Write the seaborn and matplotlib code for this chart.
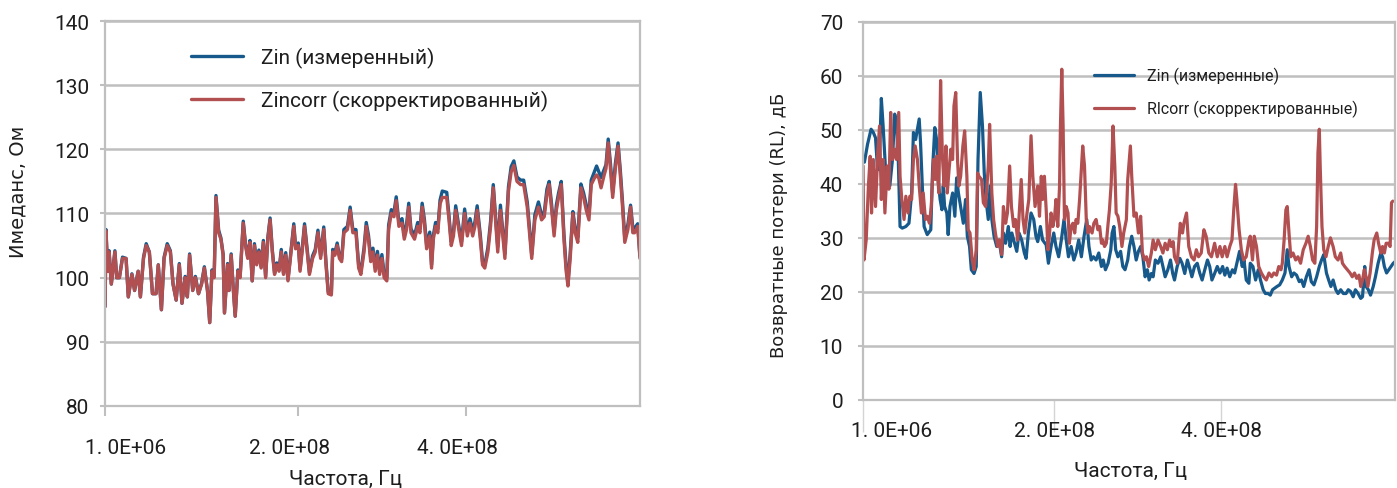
import matplotlib
matplotlib.use("Agg")
import matplotlib.pyplot as plt
from matplotlib.transforms import ScaledTranslation
import seaborn as sns

# ---------------- Input impedance (sweep point number -> Ohm) ----------------
imp_points = [
    0, 2, 6, 9, 14, 22, 26, 32, 39, 47,
    52, 60, 66, 74, 79, 86, 92, 99, 106, 114,
    119, 126, 132, 139, 146, 152, 159, 166, 172, 179,
    184, 189, 196, 202, 209, 216, 222, 229, 234, 239,
    244, 248, 254, 259, 264, 267, 274, 277, 282, 286,
    291, 297, 302, 309, 314, 319, 324, 329, 334, 339,
    344, 349, 354, 359, 364, 369, 374, 379, 384, 389,
    394, 399, 404, 409, 416, 422, 426, 432, 436, 442,
    446, 452, 457, 464, 470, 476, 482, 489, 494, 499,
    506, 509, 514, 519, 524, 529, 534, 542, 548, 554,
    561, 567, 572, 579, 584, 589, 594, 599, 604, 609,
    614, 619, 624, 630, 634, 640, 646, 651, 657, 664,
    669, 674, 679, 684, 692, 699, 704, 709, 714, 719,
    726, 730, 734, 739, 744, 749, 754, 764, 769, 774,
    779, 784, 792, 797, 804, 810, 816, 822, 827, 832,
    839, 844, 849, 856, 862, 868, 874, 878, 884, 890,
    894, 902, 908, 914, 921, 929, 936, 944, 949, 954,
    961, 969, 976, 982, 988, 993, 998, 1004, 1009, 1014,
    1020, 1026, 1031, 1035, 1040, 1046, 1051, 1057, 1064, 1070,
    1076, 1082, 1087, 1094, 1099, 1104, 1109, 1116, 1120, 1125,
    1130, 1135, 1141, 1147, 1152, 1157, 1162, 1169, 1175, 1180,
    1184, 1191, 1196,
]
imp_measured = [
    95.5, 107.5, 101, 104.2, 99, 104.2, 100, 100, 103.2, 103,
    97, 100.6, 98, 101, 97, 103.2, 105.3, 104, 97.5, 97.5,
    102, 95, 103.2, 105.3, 104.2, 99, 96.5, 102.2, 96, 100.2,
    97, 103.7, 98, 100.2, 97.5, 99.2, 101.7, 98, 93, 101.2,
    100.3, 112.8, 107.4, 106.2, 103.7, 94.5, 102.2, 98, 103.7, 99,
    94, 101.2, 100.2, 108.8, 105.3, 103.2, 105.8, 99.5, 105.3, 102.2,
    104.3, 101.7, 105.8, 100.2, 106.3, 109.3, 104.3, 100.7, 102.3, 101.2,
    104.4, 100.7, 103.9, 99.7, 104.4, 108.4, 104.9, 105.4, 101.3, 105.4,
    108.4, 104.4, 100.8, 103.4, 104.4, 107.4, 103.4, 107.9, 102.4, 97.8,
    97.6, 104.4, 103.9, 105.4, 103.4, 102.9, 107.5, 108, 111, 107.5,
    107.5, 102, 101, 104.6, 108.6, 106.6, 103.1, 104.6, 101.6, 104.1,
    101.1, 103.6, 100.6, 100, 108.2, 110.6, 110.2, 112.6, 108.6, 109.2,
    106.6, 108.2, 111.6, 107.6, 106.6, 108.6, 107.6, 111.6, 109.1, 105.1,
    107.1, 102, 106.6, 108.6, 107.6, 112.1, 113.5, 113.3, 109.7, 105.6,
    107.2, 111.2, 107.6, 105.6, 110.7, 107.2, 109.2, 107.2, 108.7, 111.2,
    106.7, 102.5, 102, 104.7, 108.8, 114.5, 108.8, 104.8, 111.3, 106.8,
    103.7, 114.2, 117.3, 118.2, 115.7, 115.2, 115.2, 111.8, 107.8, 103.6,
    109.8, 111.8, 109.8, 110.2, 113.8, 115, 111.7, 107.2, 111.3, 113.2,
    115, 106.8, 101.7, 99.2, 103.8, 110.3, 107.8, 106.3, 114.6, 113.2,
    111.3, 109.8, 115.2, 116.5, 117.4, 116.5, 115.6, 116.9, 117.6, 121.6,
    117.8, 113.2, 117.8, 121, 116.8, 111.8, 106.2, 108.3, 111.3, 107.8,
    107.7, 108.4, 103.3,
]
imp_corrected = [
    95.5, 107.3, 101, 104, 99, 104, 100, 100, 103, 103,
    97, 100.5, 98, 101, 97, 103, 105, 104, 97.5, 97.5,
    102, 95, 103, 105, 104, 99, 96.5, 102, 96, 100,
    97, 103.5, 98, 100, 97.5, 99, 101.5, 98, 93, 101,
    100, 112.5, 107, 106, 103.5, 94.5, 102, 98, 103.5, 99,
    94, 101, 100, 108.5, 105, 103, 105.5, 99.5, 105, 102,
    104, 101.5, 105.5, 100, 106, 109, 104, 100.5, 102, 101,
    104, 100.5, 103.5, 99.5, 104, 108, 104.5, 105, 101, 105,
    108, 104, 100.5, 103, 104, 107, 103, 107.5, 102, 97.5,
    97.3, 104, 103.5, 105, 103, 102.5, 107, 107.5, 110.5, 107,
    107, 101.5, 100.5, 104, 108, 106, 102.5, 104, 101, 103.5,
    100.5, 103, 100, 99.5, 107.5, 110, 109.5, 112, 108, 108.5,
    106, 107.5, 111, 107, 106, 108, 107, 111, 108.5, 104.5,
    106.5, 101.5, 106, 108, 107, 111.5, 112.5, 112.5, 109, 105,
    106.5, 110.5, 107, 105, 110, 106.5, 108.5, 106.5, 108, 110.5,
    106, 102, 101.5, 104, 108, 114, 108, 104, 110.5, 106,
    103, 113.5, 116.5, 117.5, 115, 114.5, 114.5, 111, 107, 103,
    109, 111, 109, 109.5, 113, 114.5, 111, 106.5, 110.5, 112.5,
    114.5, 106, 101, 98.7, 103, 110, 107, 105.5, 114, 112.5,
    110.5, 109, 114.5, 115.5, 116, 115.5, 114, 116, 117, 121,
    117, 112.5, 117, 120.5, 116, 111, 105.5, 107.5, 111, 107,
    107, 108, 103,
]

# ---------------- Return loss (sweep point number -> dB) ----------------
rl_meas_points = [
    3, 10, 18, 23, 28, 32, 36, 41, 45, 50,
    54, 60, 66, 71, 75, 79, 83, 88, 96, 103,
    109, 113, 118, 126, 129, 133, 137, 144, 152, 156,
    161, 165, 169, 173, 177, 180, 183, 188, 191, 195,
    201, 206, 210, 214, 219, 225, 230, 234, 239, 243,
    249, 254, 258, 263, 268, 272, 276, 281, 285, 289,
    294, 300, 305, 311, 315, 320, 326, 330, 334, 339,
    345, 350, 356, 362, 366, 371, 377, 383, 388, 392,
    398, 403, 411, 416, 422, 428, 433, 439, 445, 451,
    456, 461, 467, 473, 478, 484, 490, 496, 502, 507,
    512, 517, 523, 529, 535, 539, 544, 550, 556, 559,
    563, 567, 572, 578, 583, 588, 594, 598, 603, 608,
    613, 618, 623, 628, 633, 638, 642, 647, 651, 656,
    662, 668, 673, 678, 684, 690, 695, 699, 705, 711,
    716, 722, 728, 734, 738, 744, 750, 756, 761, 767,
    773, 778, 783, 789, 795, 801, 807, 812, 817, 823,
    829, 834, 839, 845, 851, 855, 860, 866, 869, 875,
    881, 887, 892, 898, 903, 909, 914, 919, 924, 929,
    935, 941, 947, 952, 956, 962, 967, 973, 979, 984,
    989, 995, 1001, 1006, 1012, 1018, 1024, 1029, 1034, 1040,
    1045, 1050, 1055, 1061, 1066, 1072, 1078, 1084, 1089, 1094,
    1100, 1105, 1111, 1117, 1121, 1126, 1129, 1134, 1139, 1145,
    1150, 1156, 1162, 1166, 1170, 1175, 1180, 1185, 1190, 1194,
]
rl_measured = [
    44, 47.3, 50.1, 49.5, 48.5, 43.3, 42.6, 55.8, 50.7, 43.3,
    42, 39.6, 44.5, 52.9, 51.3, 44.5, 32.1, 31.8, 32.1, 32.7,
    38.3, 49.5, 48.2, 52, 47.6, 39.6, 32.1, 30.6, 31.5, 42.6,
    50.4, 48.2, 40.2, 37.1, 35.2, 39.6, 35.8, 34.6, 30.6, 35.8,
    38.3, 34, 41.1, 38.3, 35.8, 32.7, 37.1, 30.3, 28.4, 24.1,
    23.4, 24.7, 44.5, 56.9, 50.7, 42, 37.1, 33.4, 39.6, 33.4,
    30.3, 28.4, 29.6, 26.5, 30.9, 29, 32.1, 28.4, 30.9, 29.3,
    27.5, 30.9, 29.6, 27.2, 26.2, 30.9, 34.6, 33.4, 30.3, 29.3,
    32.1, 29.6, 28.7, 25.3, 28.4, 30.9, 28.4, 26.5, 29.6, 33.4,
    29.6, 26.5, 28.4, 25.9, 27.2, 29.6, 26.5, 30.3, 33.4, 28.4,
    25.9, 26.5, 25.9, 27.2, 24.7, 25.9, 24.1, 25.3, 27.8, 30.9,
    32.1, 27.8, 26.5, 27.5, 24.7, 24.1, 25.9, 28.4, 30.3, 28.4,
    25.9, 27.5, 28.4, 26.5, 22.8, 24.1, 22.2, 23.4, 22.8, 25.9,
    25.3, 26.5, 24.7, 22.8, 24.1, 25.9, 23.4, 22.2, 24.7, 26.2,
    25.3, 23.4, 25.9, 24.1, 22.8, 24.7, 25.3, 23.4, 22.2, 24.1,
    25.9, 24.7, 22.2, 23.4, 24.7, 23.5, 24.7, 23.1, 24.4, 22.8,
    24.1, 23.5, 25.3, 27.5, 24.7, 25.9, 22.2, 21.6, 25.3, 24.7,
    22.2, 24.1, 22.2, 20.4, 19.7, 19.7, 19.4, 20.4, 20.7, 21,
    21.3, 22.2, 23.5, 27.8, 24.7, 22.8, 23.5, 23.1, 21.9, 22.2,
    21, 22.8, 24.1, 21.9, 21.3, 22.8, 24.7, 25.9, 26.9, 23.5,
    22.2, 21, 22.2, 20.4, 19.7, 20.4, 19.7, 19.7, 20.4, 20.1,
    19.1, 20.4, 19.7, 18.8, 19.1, 24.7, 21, 20.4, 19.4, 21,
    22.8, 25.3, 27.2, 26.5, 24.7, 23.5, 24.1, 24.7, 25.3, 25.6,
]
rl_corr_points = [
    0, 2, 7, 12, 16, 19, 23, 28, 33, 37,
    41, 45, 49, 54, 58, 62, 66, 71, 75, 80,
    83, 87, 92, 96, 101, 105, 109, 113, 117, 122,
    126, 131, 135, 140, 144, 149, 153, 158, 162, 165,
    170, 174, 178, 182, 186, 189, 193, 197, 201, 204,
    208, 212, 215, 219, 224, 228, 233, 236, 240, 245,
    249, 254, 257, 260, 266, 270, 275, 281, 284, 289,
    293, 297, 302, 306, 311, 315, 320, 324, 329, 333,
    338, 342, 347, 351, 355, 359, 363, 368, 372, 377,
    381, 386, 392, 396, 400, 403, 407, 411, 415, 418,
    422, 426, 430, 433, 437, 441, 443, 446, 449, 452,
    456, 460, 463, 467, 471, 475, 478, 482, 486, 490,
    493, 497, 501, 505, 508, 514, 518, 523, 527, 531,
    535, 538, 542, 546, 550, 553, 557, 561, 565, 568,
    572, 576, 581, 585, 591, 594, 600, 603, 608, 613,
    618, 623, 627, 632, 636, 641, 647, 651, 656, 662,
    668, 673, 678, 683, 688, 692, 696, 699, 705, 708,
    712, 717, 720, 726, 731, 737, 743, 748, 753, 759,
    765, 770, 776, 782, 789, 795, 801, 806, 812, 817,
    823, 828, 832, 836, 839, 844, 849, 854, 860, 866,
    869, 874, 878, 883, 888, 894, 899, 905, 911, 917,
    922, 928, 933, 938, 941, 945, 949, 952, 956, 960,
    965, 971, 976, 982, 988, 994, 999, 1004, 1009, 1014,
    1018, 1021, 1024, 1026, 1030, 1034, 1039, 1044, 1049, 1055,
    1060, 1066, 1072, 1076, 1081, 1087, 1093, 1098, 1103, 1108,
    1113, 1117, 1121, 1125, 1129, 1133, 1138, 1143, 1147, 1153,
    1157, 1162, 1166, 1170, 1174, 1179, 1183, 1186, 1189,
]
rl_corrected = [
    43.3, 25.9, 29.6, 39.6, 45.1, 34.6, 44.5, 35.8, 45.8, 50.7,
    37.1, 44.5, 34.6, 43.3, 39, 53.2, 44.5, 46.4, 44.5, 53.2,
    41.4, 37.1, 33.4, 37.7, 34.6, 37.7, 37.1, 44.5, 47, 44.5,
    39.6, 34.6, 38.3, 33.4, 34, 32.7, 35.8, 44.5, 40.8, 45.1,
    38.3, 59.1, 45.1, 39.6, 47, 38.3, 42.6, 46.4, 44.5, 54.4,
    56.9, 44.5, 39.6, 41.4, 47, 49.8, 41.4, 31.5, 30.9, 25.9,
    24.1, 27.8, 42, 41.4, 40.8, 36.5, 35.8, 43.3, 51, 38.3,
    33.4, 30.9, 28.4, 29.6, 26.9, 35.8, 32.7, 34.6, 43.3, 35.8,
    32.1, 33.4, 29.6, 35.2, 40.8, 33.4, 30.9, 34.6, 37.1, 48.9,
    41.4, 35.8, 39.6, 34, 41.4, 37.1, 41.4, 35.2, 27.8, 30.3,
    34.6, 32.1, 34, 37.1, 32.1, 39.6, 50.7, 61.2, 50.7, 33.4,
    35.8, 34.6, 29, 32.1, 32.7, 30.9, 33.4, 32.7, 37.1, 42.6,
    47, 43.3, 33.4, 30.9, 32.1, 30.9, 32.7, 33.4, 31.5, 32.1,
    29, 29.6, 28.4, 29, 32.7, 35.2, 40.2, 50.7, 43.3, 34.6,
    34, 32.1, 28.4, 30.9, 33.4, 40.8, 47, 41.4, 34, 34.6,
    30.9, 34, 27.2, 25.9, 26.5, 24.7, 27.2, 29.6, 27.8, 29.6,
    28.4, 27.2, 29, 27.8, 29.6, 28.4, 29.3, 26.5, 25.3, 28.4,
    32.7, 30.9, 32.7, 34.6, 28.4, 26.5, 25.9, 27.8, 26.5, 27.2,
    31.5, 30.3, 27.2, 26.5, 29, 26.5, 28.4, 26.5, 28.4, 26.5,
    28.4, 29.6, 35.2, 39.9, 37.1, 31.5, 27.8, 25.9, 26.5, 29.6,
    30.3, 25.9, 30.3, 28.4, 24.7, 23.5, 22.8, 22.2, 23.5, 22.8,
    23.5, 23.1, 24.7, 24.1, 25.3, 29.6, 35.2, 35.8, 30.9, 26.5,
    27.2, 25.9, 26.5, 25.3, 27.8, 29, 30.3, 28.4, 25.9, 25.3,
    32.1, 45.8, 50.1, 43.3, 32.1, 27.8, 26.5, 28.4, 30, 28.4,
    26.5, 25.9, 27.2, 25.3, 24.7, 24.1, 23.5, 22.8, 23.5, 22.5,
    23.1, 21, 22.2, 24.1, 22.8, 21, 23.5, 27.2, 29.6, 30.9,
    29, 27.2, 28.4, 27.2, 29, 29, 28.4, 36.5, 36.8,
]

freq_labels = ["1. 0E+06", "2. 0E+08", "4. 0E+08"]
imp_ticks = [0, 431, 807]
rl_ticks = [0, 429, 804]

BLUE = "#17598A"
RED = "#B24F50"
GRID = "#BFBFBF"
TEXT = "#1E1E1E"

sns.set_style("white")
plt.rcParams["font.family"] = ["Roboto", "DejaVu Sans"]

fig = plt.figure(figsize=(13.97, 4.89), dpi=100)
ax1 = fig.add_axes([0.0752, 0.1677, 0.3829, 0.7873])
ax2 = fig.add_axes([0.6178, 0.1800, 0.3808, 0.7736])


def frame(ax, ylim, yticks):
    ax.set_ylim(*ylim)
    ax.set_yticks(yticks)
    ax.grid(axis="y", color=GRID, linewidth=1.8)
    ax.grid(axis="x", visible=False)
    ax.set_axisbelow(True)
    for sp in ax.spines.values():
        sp.set_visible(True)
        sp.set_color(GRID)
        sp.set_linewidth(1.6)
    ax.tick_params(axis="y", left=True, direction="out", length=3.6,
                   width=1.5, color=GRID, labelsize=15, labelcolor=TEXT)


def shift_xlabels(ax, shifts_px):
    for lab, dx in zip(ax.get_xticklabels(), shifts_px):
        lab.set_transform(lab.get_transform()
                          + ScaledTranslation(dx / 100, 0, fig.dpi_scale_trans))


# ---- left panel: impedance ----
sns.lineplot(x=imp_points, y=imp_measured, ax=ax1, color=BLUE, linewidth=2.4,
             label="Zin (измеренный)", sort=False)
sns.lineplot(x=imp_points, y=imp_corrected, ax=ax1, color=RED, linewidth=2.4,
             label="Zincorr (скорректированный)", sort=False)
ax1.set_xlim(0, 1196)
frame(ax1, (80, 140), range(80, 141, 10))
ax1.tick_params(axis="y", pad=8)
ax1.set_xticks(imp_ticks)
ax1.set_xticklabels(freq_labels)
ax1.tick_params(axis="x", bottom=True, direction="out", length=7, width=1.5,
                color=GRID, pad=16, labelsize=15, labelcolor=TEXT)
shift_xlabels(ax1, [21, -8, -9])
ax1.set_xlabel("Частота, Гц", fontsize=15, color=TEXT)
ax1.xaxis.set_label_coords(0.45, -0.164)
ax1.set_ylabel("Имеданс, Ом", fontsize=14, color=TEXT, family="DejaVu Sans")
ax1.yaxis.set_label_coords(-0.145, 0.558)
ax1.legend(loc="upper left", bbox_to_anchor=(0.1367, 0.902),
           bbox_transform=fig.transFigure, frameon=False, borderpad=0,
           borderaxespad=0, handlelength=2.5, handletextpad=0.85,
           labelspacing=1.05, fontsize=15, labelcolor=TEXT)

# ---- right panel: return loss ----
sns.lineplot(x=rl_meas_points, y=rl_measured, ax=ax2, color=BLUE, linewidth=2.3,
             label="Zin (измеренные)", sort=False)
sns.lineplot(x=rl_corr_points, y=rl_corrected, ax=ax2, color=RED, linewidth=2.3,
             label="Rlcorr (скорректированные)", sort=False)
ax2.set_xlim(0, 1194)
frame(ax2, (0, 70), range(0, 71, 10))
ax2.tick_params(axis="y", pad=10.8)
ax2.set_xticks(rl_ticks)
ax2.set_xticklabels(freq_labels)
ax2.tick_params(axis="x", bottom=True, direction="out", length=23, width=1.0,
                color="#D4D4D4", pad=-8, labelsize=15, labelcolor=TEXT)
shift_xlabels(ax2, [28, 0, 0])
ax2.set_xlabel("Частота, Гц", fontsize=15, color=TEXT)
ax2.xaxis.set_label_coords(0.502, -0.161)
ax2.set_ylabel("Возвратные потери (RL), дБ", fontsize=13, color=TEXT,
               family="DejaVu Sans")
ax2.yaxis.set_label_coords(-0.141, 0.465)
ax2.legend(loc="upper left", bbox_to_anchor=(0.7833, 0.861),
           bbox_transform=fig.transFigure, frameon=False, borderpad=0,
           borderaxespad=0, handlelength=2.5, handletextpad=0.8,
           labelspacing=1.0, fontsize=11.5, labelcolor=TEXT)

fig.savefig("out.png", dpi=100, facecolor="white")
